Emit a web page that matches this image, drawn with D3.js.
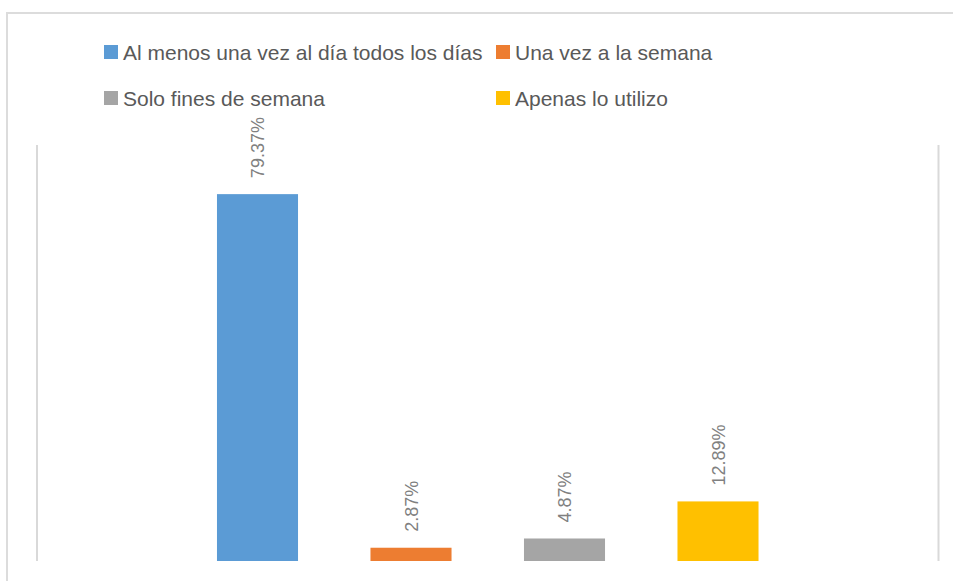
<!DOCTYPE html>
<html>
<head>
<meta charset="utf-8">
<script src="https://cdn.jsdelivr.net/npm/d3@7"></script>
<style>
  html, body { margin: 0; padding: 0; background: #fff; }
  svg { display: block; font-family: "Liberation Sans", Arial, sans-serif; }
</style>
</head>
<body>
<div id="chart"></div>
<script>
// datos del gráfico
const categories = [
    'Al menos una vez al día todos los días',
    'Una vez a la semana',
    'Solo fines de semana',
    'Apenas lo utilizo'
];
const values = [79.37, 2.87, 4.87, 12.89];
const valueLabels = ['79.37%', '2.87%', '4.87%', '12.89%'];
const colors = ['#5b9bd5', '#ed7d31', '#a5a5a5', '#ffc000'];

const width = 953;
const height = 581;

const svg = d3.select('#chart')
    .append('svg')
    .attr('width', width)
    .attr('height', height);

// marco exterior
svg.append('rect')
    .attr('x', 7)
    .attr('y', 13)
    .attr('width', 1000)
    .attr('height', 700)
    .attr('fill', 'none')
    .attr('stroke', '#dcdcdc')
    .attr('stroke-width', 2);

// escalas
const x = d3.scaleBand()
    .domain(categories)
    .range([180.75, 794.75])
    .paddingInner(0.472)
    .paddingOuter(0.236);

const y = d3.scaleLinear()
    .domain([0, 90])
    .range([561, 145]);

// líneas verticales del área de trazado
const plotLeft = 37, plotRight = 938.5;
[plotLeft, plotRight].forEach(px => {
    svg.append('line')
        .attr('x1', px).attr('x2', px)
        .attr('y1', y(90)).attr('y2', y(0))
        .attr('stroke', '#d9d9d9')
        .attr('stroke-width', 2);
});

// barras
svg.selectAll('.bar')
    .data(categories)
    .enter()
    .append('rect')
    .attr('class', 'bar')
    .attr('x', d => x(d))
    .attr('y', (d, i) => y(values[i]))
    .attr('width', x.bandwidth())
    .attr('height', (d, i) => y(0) - y(values[i]))
    .attr('fill', (d, i) => colors[i]);

// etiquetas de datos (rotadas)
svg.selectAll('.value-label')
    .data(categories)
    .enter()
    .append('text')
    .attr('class', 'value-label')
    .attr('transform', (d, i) => {
        const cx = x(d) + x.bandwidth() / 2 + 6.5;
        const cy = y(values[i]) - 16;
        return `translate(${cx},${cy}) rotate(-90)`;
    })
    .attr('text-anchor', 'start')
    .style('font-size', '18px')
    .style('fill', '#808080')
    .text((d, i) => valueLabels[i]);

// leyenda
const legendCols = [104, 496];
const legendRows = [45, 91];
const swatch = 14;

const legend = svg.selectAll('.legend-item')
    .data(categories)
    .enter()
    .append('g')
    .attr('class', 'legend-item')
    .attr('transform', (d, i) => `translate(${legendCols[i % 2]},${legendRows[Math.floor(i / 2)]})`);

legend.append('rect')
    .attr('width', swatch)
    .attr('height', swatch)
    .attr('fill', (d, i) => colors[i]);

legend.append('text')
    .attr('x', 19)
    .attr('y', 14.5)
    .style('font-size', '21px')
    .style('fill', '#595959')
    .text(d => d);
</script>
</body>
</html>
